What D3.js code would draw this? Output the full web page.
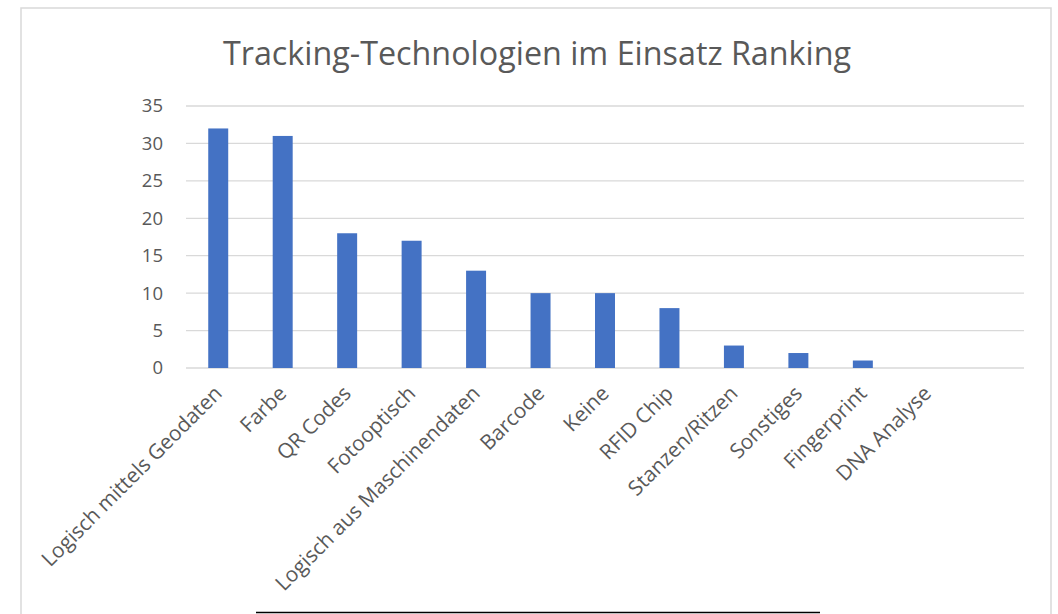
<!DOCTYPE html>
<html>
<head>
<meta charset="utf-8">
<script src="https://cdn.jsdelivr.net/npm/d3@7"></script>
<style>
  html, body { margin: 0; padding: 0; background: #fff; }
  svg { display: block; }
  text { font-family: "Open Sans", "Noto Sans", sans-serif; fill: #595959; }
</style>
</head>
<body>
<svg id="chart" width="1058" height="614"></svg>
<script>
const title = "Tracking-Technologien im Einsatz Ranking";
const categories = ["Logisch mittels Geodaten", "Farbe", "QR Codes", "Fotooptisch",
  "Logisch aus Maschinendaten", "Barcode", "Keine", "RFID Chip", "Stanzen/Ritzen",
  "Sonstiges", "Fingerprint", "DNA Analyse", ""];
const values = [32, 31, 18, 17, 13, 10, 10, 8, 3, 2, 1, 0, null];
const yTicks = [0, 5, 10, 15, 20, 25, 30, 35];

const svg = d3.select("#chart");
const plot = { left: 186, right: 1024, top: 106, bottom: 368 };

// frame
svg.append("rect")
  .attr("x", 21).attr("y", 8)
  .attr("width", 1030).attr("height", 640)
  .attr("fill", "#fff").attr("stroke", "#d9d9d9").attr("stroke-width", 1.5);

const x = d3.scaleBand()
  .domain(d3.range(categories.length))
  .range([plot.left, plot.right])
  .paddingInner(0.69).paddingOuter(0.345);

const y = d3.scaleLinear().domain([0, 35]).range([plot.bottom, plot.top]);

// gridlines
svg.append("g").selectAll("line").data(yTicks).join("line")
  .attr("x1", plot.left).attr("x2", plot.right)
  .attr("y1", d => y(d)).attr("y2", d => y(d))
  .attr("stroke", "#d9d9d9").attr("stroke-width", 1.3);

// y axis labels
const yAxis = d3.axisLeft(y).tickValues(yTicks).tickSize(0).tickPadding(0);
const gy = svg.append("g").attr("transform", `translate(163,0)`).call(yAxis);
gy.select(".domain").remove();
gy.selectAll("text")
  .attr("font-size", 18.5)
  .style("font-family", '"Open Sans", sans-serif')
  .attr("fill", "#595959");

// bars
svg.append("g").selectAll("rect")
  .data(values.map((v, i) => ({ v, i })).filter(d => d.v !== null))
  .join("rect")
  .attr("x", d => x(d.i))
  .attr("width", x.bandwidth())
  .attr("y", d => y(d.v))
  .attr("height", d => y(0) - y(d.v))
  .attr("fill", "#4472C4");

// x axis labels
const xAxis = d3.axisBottom(x).tickFormat(i => categories[i]).tickSize(0).tickPadding(0);
const gx = svg.append("g").attr("transform", `translate(0,${plot.bottom})`).call(xAxis);
gx.select(".domain").remove();
gx.selectAll("text")
  .attr("font-size", 20.8)
  .style("font-family", '"Open Sans", sans-serif')
  .attr("fill", "#595959")
  .attr("text-anchor", "end")
  .attr("dy", "0.35em")
  .attr("transform", "translate(0,21.5) rotate(-45)");

// title
svg.append("text")
  .attr("x", 537).attr("y", 65)
  .attr("text-anchor", "middle")
  .attr("font-size", 32.3)
  .attr("fill", "#595959")
  .text(title);

// stray line at bottom
svg.append("line")
  .attr("x1", 256).attr("x2", 820)
  .attr("y1", 612.5).attr("y2", 612.5)
  .attr("stroke", "#000").attr("stroke-width", 1.6);
</script>
</body>
</html>
